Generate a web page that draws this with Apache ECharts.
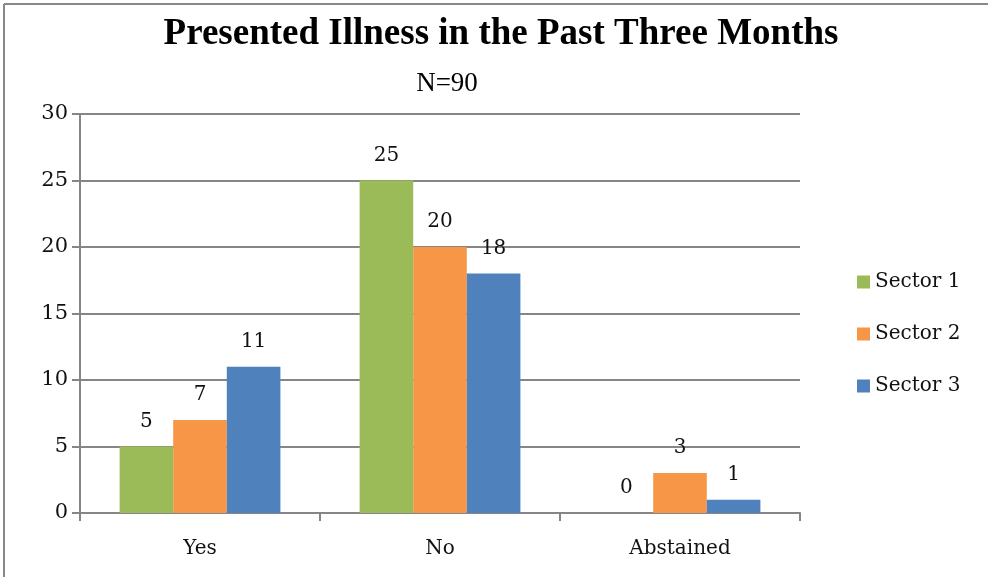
<!DOCTYPE html>
<html>
<head>
<meta charset="utf-8">
<script src="https://cdn.jsdelivr.net/npm/echarts@6/dist/echarts.min.js"></script>
<style>
  html, body { margin: 0; padding: 0; background: #fff; }
  #chart { width: 988px; height: 577px; }
</style>
</head>
<body>
<div id="chart"></div>
<script>
// Responses per sector
const categories = ['Yes', 'No', 'Abstained'];
const sector1 = [5, 25, 0];
const sector2 = [7, 20, 3];
const sector3 = [11, 18, 1];
const seriesNames = ['Sector 1', 'Sector 2', 'Sector 3'];
const colors = ['#9BBB59', '#F79646', '#4F81BD'];

const serif = '"Liberation Serif", serif';
const bodySerif = '"DejaVu Serif", "Liberation Serif", serif';
const chart = echarts.init(document.getElementById('chart'));

const mkSeries = (name, data, color) => ({
  name: name,
  type: 'bar',
  data: data,
  barGap: '0%',
  barCategoryGap: '33%',
  itemStyle: { color: color },
  label: {
    show: true,
    position: 'top',
    distance: 15,
    fontFamily: bodySerif,
    fontSize: 20,
    color: '#111'
  }
});

chart.setOption({
  animation: false,
  backgroundColor: '#fff',
  graphic: [
    { type: 'line', shape: { x1: 4, y1: 4, x2: 988, y2: 4 }, style: { stroke: '#888', lineWidth: 2 } },
    { type: 'line', shape: { x1: 4, y1: 4, x2: 4, y2: 577 }, style: { stroke: '#888', lineWidth: 2 } },
    {
      type: 'text', x: 501, y: 16,
      style: { text: 'Presented Illness in the Past Three Months', textAlign: 'center', fontFamily: serif, fontWeight: 'bold', fontSize: 37, fill: '#000' }
    },
    {
      type: 'text', x: 447, y: 70,
      style: { text: 'N=90', textAlign: 'center', fontFamily: serif, fontSize: 27, fill: '#000' }
    }
  ],
  legend: {
    orient: 'vertical',
    left: 852,
    top: 267,
    itemWidth: 13,
    itemHeight: 13,
    itemGap: 32,
    icon: 'rect',
    textStyle: { fontFamily: bodySerif, fontSize: 20, color: '#111' },
    data: seriesNames
  },
  grid: { left: 80, right: 188, top: 114, bottom: 64 },
  xAxis: {
    type: 'category',
    data: categories,
    axisLine: { lineStyle: { color: '#868686', width: 2 } },
    axisTick: { show: true, length: 8, lineStyle: { color: '#868686', width: 2 } },
    axisLabel: { fontFamily: bodySerif, fontSize: 20, color: '#111', margin: 26 }
  },
  yAxis: {
    type: 'value',
    min: 0,
    max: 30,
    interval: 5,
    axisLine: { show: true, lineStyle: { color: '#868686', width: 2 } },
    axisTick: { show: true, length: 8, lineStyle: { color: '#868686', width: 2 } },
    axisLabel: { fontFamily: bodySerif, fontSize: 21, color: '#111', margin: 12 },
    splitLine: { lineStyle: { color: '#868686', width: 2 } }
  },
  series: [
    mkSeries(seriesNames[0], sector1, colors[0]),
    mkSeries(seriesNames[1], sector2, colors[1]),
    mkSeries(seriesNames[2], sector3, colors[2])
  ]
});
</script>
</body>
</html>
